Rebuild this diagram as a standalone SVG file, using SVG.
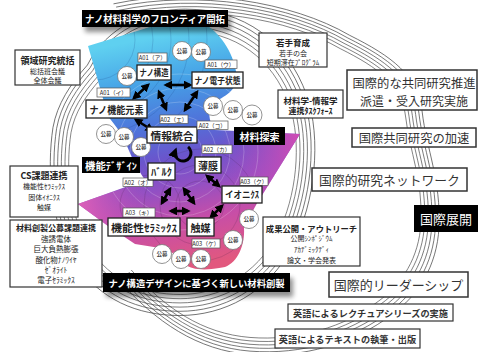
<svg xmlns="http://www.w3.org/2000/svg" width="479" height="352" viewBox="0 0 479 352">
<defs>
<linearGradient id="g" gradientUnits="userSpaceOnUse" x1="140" y1="40" x2="185" y2="268">
<stop offset="0" stop-color="#5fd0f0"/>
<stop offset="0.2" stop-color="#45a0e6"/>
<stop offset="0.38" stop-color="#4f74da"/>
<stop offset="0.52" stop-color="#6a55cc"/>
<stop offset="0.65" stop-color="#9150c4"/>
<stop offset="0.8" stop-color="#c64ea8"/>
<stop offset="1" stop-color="#e2587e"/>
</linearGradient>
<linearGradient id="gr" gradientUnits="userSpaceOnUse" x1="222" y1="150" x2="296" y2="140">
<stop offset="0" stop-color="#b04cc0" stop-opacity="0"/>
<stop offset="1" stop-color="#d04cb4" stop-opacity="0.95"/>
</linearGradient>
<linearGradient id="gl" gradientUnits="userSpaceOnUse" x1="150" y1="200" x2="80" y2="204">
<stop offset="0" stop-color="#c84cb0" stop-opacity="0"/>
<stop offset="1" stop-color="#e060b8" stop-opacity="0.95"/>
</linearGradient>
<path id="body" d="M88,46 L150,27 L205,24 C222,35 235,55 237,78 C236,92 222,98 210,104 C208,115 210,124 215,130 L300,134 L256,205 L244,228 C245,245 238,262 225,267 C205,271 192,270 184,264 C178,256 170,250 160,248 L135,244 L108,226 L78,204 L145,180 C135,165 128,150 125,140 C118,128 112,122 108,116 C102,95 95,70 88,46 Z"/>
<clipPath id="cp"><use href="#body"/></clipPath>
<path id="inner" d="M94,72 C112,36 150,20 185,20 C240,20 280,50 298,100 C312,140 306,200 285,240 C262,285 220,305 180,305 C140,305 105,290 82,255 C60,220 56,170 62,130 C66,108 78,90 94,72 Z"/>
<path id="outer" d="M120,12 C200,-5 290,10 345,42 C385,62 410,80 414,115 C418,150 432,180 430,225 C428,262 410,290 385,308 C350,335 300,350 250,346 C200,342 160,315 125,275"/>
<marker id="ah" viewBox="0 0 10 10" refX="7" refY="5" markerWidth="3.4" markerHeight="3.4" orient="auto-start-reverse">
<path d="M0,0 L10,5 L0,10 Z" fill="#000"/>
</marker>
<filter id="sh" x="-10%" y="-40%" width="125%" height="220%">
<feGaussianBlur in="SourceAlpha" stdDeviation="2.5"/>
<feOffset dx="3" dy="5" result="o"/>
<feComponentTransfer><feFuncA type="linear" slope="0.45"/></feComponentTransfer>
<feMerge><feMergeNode/><feMergeNode in="SourceGraphic"/></feMerge>
</filter>
</defs>
<style>
.t{font-family:"Noto Sans CJK JP","Noto Sans",sans-serif;dominant-baseline:central;text-anchor:middle;fill:#222}
.b{font-weight:bold}
.box{fill:#fff;stroke:#333;stroke-width:1.2}
.big{fill:#fff;stroke:#333;stroke-width:1.5}
.gt{fill:#333}
.nb{fill:#fff;stroke:#222;stroke-width:1.3}
.lb{fill:#fff;stroke:#555;stroke-width:0.7}
.lt{font-size:5.8px;fill:#222}
.kc{fill:#fff;stroke:#777;stroke-width:0.8}
.kt{font-size:5.5px;font-weight:bold;fill:#444}
.blk{fill:#000}
.wt{fill:#fff;font-weight:bold}
.ring use{fill:none;stroke:#444;stroke-width:0.7}
.inl{fill:none;stroke-width:0.6}
.arr{stroke:#000;stroke-width:2.6;fill:none;marker-start:url(#ah);marker-end:url(#ah)}
</style>

<g id="rings" class="ring">
<use href="#inner" transform="translate(182 165) scale(0.925) translate(-182 -165)"/>
<use href="#inner" transform="translate(182 165) scale(0.955) translate(-182 -165)"/>
<use href="#inner" transform="translate(182 165) scale(0.985) translate(-182 -165)"/>
<use href="#inner" transform="translate(182 165) scale(1.015) translate(-182 -165)"/>
<use href="#inner" transform="translate(182 165) scale(1.045) translate(-182 -165)"/>
<use href="#inner" transform="translate(182 165) scale(1.075) translate(-182 -165)"/>
<use href="#outer" transform="translate(250 175) scale(0.95) translate(-250 -175)"/>
<use href="#outer" transform="translate(250 175) scale(0.97) translate(-250 -175)"/>
<use href="#outer" transform="translate(250 175) scale(0.99) translate(-250 -175)"/>
<use href="#outer" transform="translate(250 175) scale(1.01) translate(-250 -175)"/>
<use href="#outer" transform="translate(250 175) scale(1.03) translate(-250 -175)"/>
<use href="#outer" transform="translate(250 175) scale(1.05) translate(-250 -175)"/>
</g>

<g id="region">
<use href="#body" fill="url(#g)"/>
<g clip-path="url(#cp)">
<polygon points="218,126 304,132 262,198 230,180" fill="url(#gr)"/>
<polygon points="150,180 74,204 108,228 150,228" fill="url(#gl)"/>
<g class="inl" stroke="#1d3c80" stroke-opacity="0.3">
<circle cx="95" cy="40" r="40"/><circle cx="95" cy="40" r="58"/><circle cx="95" cy="40" r="76"/><circle cx="95" cy="40" r="94"/><circle cx="95" cy="40" r="112"/>
</g>
<g class="inl" stroke="#ffffff" stroke-opacity="0.35">
<circle cx="180" cy="152" r="22"/><circle cx="180" cy="152" r="36"/><circle cx="180" cy="152" r="50"/><circle cx="180" cy="152" r="64"/><circle cx="180" cy="152" r="78"/>
</g>
<g class="inl" stroke="#40204a" stroke-opacity="0.3">
<circle cx="200" cy="205" r="24"/><circle cx="200" cy="205" r="40"/><circle cx="200" cy="205" r="56"/><circle cx="150" cy="205" r="30"/>
</g>
</g>
</g>

<g id="connectors">
<line class="arr" x1="166" y1="85" x2="190" y2="85"/>
<line class="arr" x1="148" y1="85" x2="134" y2="98"/>
<line class="arr" x1="159" y1="92" x2="166" y2="109"/>
<line class="arr" x1="197" y1="92" x2="185" y2="110"/>
<line class="arr" x1="136" y1="120" x2="152" y2="130"/>
<line class="arr" x1="207" y1="176" x2="219" y2="186"/>
<line class="arr" x1="222" y1="206" x2="211" y2="217"/>
<line class="arr" x1="171" y1="211" x2="188" y2="211"/>
<line class="arr" x1="170" y1="189" x2="162" y2="203"/>
<line class="arr" x1="184" y1="189" x2="194" y2="203"/>
<path d="M188.1,146.9 A8,8 0 1 1 175.5,150.3" fill="none" stroke="#000" stroke-width="3" marker-end="url(#ah)"/>
</g>

<g id="kobo">
<circle class="kc" cx="127" cy="76" r="9.5"/><text class="t kt" x="127" y="76">公募</text>
<circle class="kc" cx="182" cy="51" r="9.5"/><text class="t kt" x="182" y="51">公募</text>
<circle class="kc" cx="201" cy="52" r="9.5"/><text class="t kt" x="201" y="52">公募</text>
<circle class="kc" cx="106" cy="134" r="9.5"/><text class="t kt" x="106" y="134">公募</text>
<circle class="kc" cx="124" cy="137" r="9.5"/><text class="t kt" x="124" y="137">公募</text>
<circle class="kc" cx="141" cy="147" r="9.5"/><text class="t kt" x="141" y="147">公募</text>
<circle class="kc" cx="213" cy="106" r="9.5"/><text class="t kt" x="213" y="106">公募</text>
<circle class="kc" cx="233" cy="110" r="9.5"/><text class="t kt" x="233" y="110">公募</text>
<circle class="kc" cx="252" cy="115" r="10"/><text class="t kt" x="252" y="115">公募</text>
<circle class="kc" cx="249" cy="219" r="9.5"/><text class="t kt" x="249" y="219">公募</text>
<circle class="kc" cx="233" cy="240" r="9.5"/><text class="t kt" x="233" y="240">公募</text>
<circle class="kc" cx="162" cy="254" r="9.5"/><text class="t kt" x="162" y="254">公募</text>
<circle class="kc" cx="181" cy="259" r="9.5"/><text class="t kt" x="181" y="259">公募</text>
<circle class="kc" cx="201" cy="259" r="9.5"/><text class="t kt" x="201" y="259">公募</text>
</g>

<g id="n-a01a">
<rect class="lb" x="138" y="53" width="29" height="9"/><text class="t lt" x="152.5" y="57.5">A01（ア）</text>
<rect class="nb" x="137" y="65" width="34" height="15"/><text class="t b" x="154" y="72.5" font-size="9" textLength="29" lengthAdjust="spacingAndGlyphs">ナノ構造</text>
</g>
<g id="n-a01b">
<rect class="lb" x="97" y="88" width="33" height="9"/><text class="t lt" x="113.5" y="92.5">A01（イ）</text>
<rect class="nb" x="86" y="100" width="61" height="18"/><text class="t b" x="116.5" y="109" font-size="10" textLength="54" lengthAdjust="spacingAndGlyphs">ナノ機能元素</text>
</g>
<g id="n-a01c">
<rect class="lb" x="205" y="60" width="32" height="8.5"/><text class="t lt" x="221" y="64.3">A01（ウ）</text>
<rect class="nb" x="192" y="72" width="51" height="16"/><text class="t b" x="217.5" y="80" font-size="9" textLength="46" lengthAdjust="spacingAndGlyphs">ナノ電子状態</text>
</g>
<g id="n-a02e">
<rect class="lb" x="160" y="115" width="28" height="8.5"/><text class="t lt" x="174" y="119.3">A02（エ）</text>
<rect class="nb" x="147" y="127" width="50" height="16"/><text class="t b" x="172" y="135" font-size="10.5" textLength="43" lengthAdjust="spacingAndGlyphs">情報統合</text>
</g>
<g id="n-a02k">
<rect class="lb" x="197" y="121" width="31" height="8.5"/><text class="t lt" x="212.5" y="125.3">A02（コ）</text>
</g>
<g id="n-a02ka">
<rect class="lb" x="202" y="145" width="30" height="8.5"/><text class="t lt" x="217" y="149.3">A02（カ）</text>
<rect class="nb" x="195" y="157" width="26" height="16"/><text class="t b" x="208" y="165" font-size="10">薄膜</text>
</g>
<g id="n-a02o">
<rect class="lb" x="123" y="178" width="30" height="8.5"/><text class="t lt" x="138" y="182.3">A02（オ）</text>
<rect class="nb" x="148" y="163" width="27" height="17"/><text class="t b" x="161.5" y="171.5" font-size="10" textLength="21" lengthAdjust="spacingAndGlyphs">ﾊﾞﾙｸ</text>
</g>
<g id="n-a03ku">
<rect class="lb" x="240" y="177" width="28" height="8.5"/><text class="t lt" x="254" y="181.3">A03（ク）</text>
<rect class="nb" x="222" y="186" width="40" height="17"/><text class="t b" x="242" y="194.5" font-size="9" textLength="34" lengthAdjust="spacingAndGlyphs">イオニｸｽ</text>
</g>
<g id="n-a03ki">
<rect class="lb" x="123" y="208" width="32" height="9"/><text class="t lt" x="139" y="212.5">A03（キ）</text>
<rect class="nb" x="108" y="218" width="72" height="18"/><text class="t b" x="144" y="227" font-size="10" textLength="66" lengthAdjust="spacingAndGlyphs">機能性ｾﾗﾐｯｸｽ</text>
</g>
<g id="n-a03ke">
<rect class="lb" x="192" y="239" width="28" height="9"/><text class="t lt" x="206" y="243.5">A03（ケ）</text>
<rect class="nb" x="187" y="218" width="27" height="18"/><text class="t b" x="200.5" y="227" font-size="10">触媒</text>
</g>

<g id="n-title">
<rect class="blk" x="82" y="10" width="146" height="17" filter="url(#sh)"/>
<text class="t wt" x="155" y="18.5" font-size="10" textLength="140" lengthAdjust="spacingAndGlyphs">ナノ材料科学のフロンティア開拓</text>
</g>
<g id="n-design">
<rect class="blk" x="82" y="157" width="58" height="16"/>
<text class="t wt" x="111" y="165" font-size="10" textLength="52" lengthAdjust="spacingAndGlyphs">機能ﾃﾞｻﾞｲﾝ</text>
</g>
<g id="n-tansaku">
<rect class="blk" x="234" y="127" width="51" height="18"/>
<text class="t wt" x="259.5" y="136" font-size="10">材料探索</text>
</g>
<g id="n-sousei">
<rect class="blk" x="103" y="273" width="187" height="19" filter="url(#sh)"/>
<text class="t wt" x="196.5" y="282.5" font-size="9.5" textLength="176" lengthAdjust="spacingAndGlyphs">ナノ構造デザインに基づく新しい材料創製</text>
</g>

<g id="n-ryoiki">
<rect class="box" x="15" y="50" width="65" height="35"/>
<text class="t b" x="47.5" y="60" font-size="9">領域研究統括</text>
<text class="t" x="47.5" y="71" font-size="7">総括班会議</text>
<text class="t" x="47.5" y="80" font-size="7">全体会議</text>
</g>
<g id="n-cs">
<rect class="box" x="10" y="166" width="68" height="51"/>
<text class="t b" x="44" y="175" font-size="9">CS課題連携</text>
<text class="t" x="44" y="186" font-size="7">機能性ｾﾗﾐｯｸｽ</text>
<text class="t" x="44" y="196.5" font-size="7">固体ｲｵﾆｸｽ</text>
<text class="t" x="44" y="207" font-size="7">触媒</text>
</g>
<g id="n-kobo-renkei">
<rect class="box" x="10" y="220" width="92" height="67"/>
<text class="t b" x="56" y="227.5" font-size="8">材料創製公募課題連携</text>
<text class="t" x="56" y="238" font-size="7.5">強誘電体</text>
<text class="t" x="56" y="248.5" font-size="7.5">巨大負熱膨張</text>
<text class="t" x="56" y="259" font-size="7.5">酸化物ﾅﾉﾜｲﾔ</text>
<text class="t" x="56" y="269" font-size="7.5">ｾﾞｵﾗｲﾄ</text>
<text class="t" x="56" y="279" font-size="7.5">電子ｾﾗﾐｯｸｽ</text>
</g>
<g id="n-wakate">
<rect class="box" x="259" y="33" width="68" height="34"/>
<text class="t b" x="293" y="42" font-size="8.5">若手育成</text>
<text class="t" x="293" y="52.5" font-size="7">若手の会</text>
<text class="t" x="293" y="62" font-size="7">短期滞在ﾌﾟﾛｸﾞﾗﾑ</text>
</g>
<g id="n-joho">
<rect class="box" x="278" y="90" width="65" height="28"/>
<text class="t b" x="310.5" y="99.5" font-size="8.5">材料学-情報学</text>
<text class="t b" x="310.5" y="110" font-size="8">連携ﾀｽｸﾌｫｰｽ</text>
</g>
<g id="n-seika">
<rect class="box" x="263" y="217" width="97" height="49"/>
<text class="t b" x="311.5" y="227.5" font-size="8.3">成果公開・アウトリーチ</text>
<text class="t" x="311.5" y="238" font-size="7">公開ｼﾝﾎﾟｼﾞｳﾑ</text>
<text class="t" x="311.5" y="249" font-size="7">ｱｶﾃﾞﾐｯｸﾃﾞｨ</text>
<text class="t" x="311.5" y="259.5" font-size="7">論文・学会発表</text>
</g>
<g id="n-kyodo">
<rect class="big" x="347" y="70" width="130" height="40"/>
<text class="t gt" x="414" y="83" font-size="12.3">国際的な共同研究推進</text>
<text class="t gt" x="414" y="100" font-size="12">派遣・受入研究実施</text>
</g>
<g id="n-kasoku">
<rect class="big" x="352" y="128" width="124" height="19"/>
<text class="t gt" x="414" y="138" font-size="12.3">国際共同研究の加速</text>
</g>
<g id="n-network">
<rect class="big" x="312" y="168" width="155" height="23"/>
<text class="t gt" x="389.5" y="179.5" font-size="12.8">国際的研究ネットワーク</text>
</g>
<g id="n-tenkai">
<rect class="blk" x="414" y="205" width="64" height="27"/>
<text class="t" x="446" y="218.5" font-size="13" style="fill:#fff">国際展開</text>
</g>
<g id="n-leader">
<rect class="big" x="329" y="272" width="139" height="25"/>
<text class="t gt" x="398.5" y="284.5" font-size="13">国際的リーダーシップ</text>
</g>
<g id="n-lecture">
<rect class="box" x="288" y="304" width="165" height="17"/>
<text class="t b gt" x="370.5" y="312.5" font-size="9.2">英語によるレクチュアシリーズの実施</text>
</g>
<g id="n-text">
<rect class="box" x="275" y="329" width="145" height="19"/>
<text class="t b gt" x="347.5" y="338.5" font-size="9.2">英語によるテキストの執筆・出版</text>
</g>
</svg>
